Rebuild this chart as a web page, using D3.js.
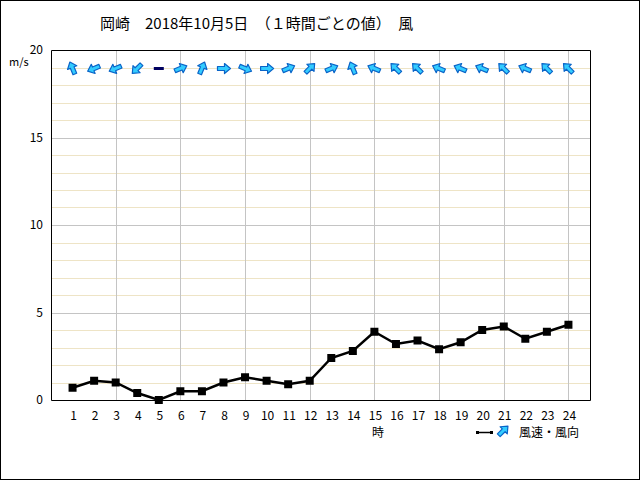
<!DOCTYPE html>
<html><head><meta charset="utf-8">
<script src="https://cdn.jsdelivr.net/npm/d3@7"></script>
<style>body{margin:0;background:#fff}svg{display:block}text{font-family:"Noto Sans CJK JP","DejaVu Sans",sans-serif;}</style>
</head><body>
<script>
const hours = [1,2,3,4,5,6,7,8,9,10,11,12,13,14,15,16,17,18,19,20,21,22,23,24];
const speed = [0.7,1.1,1.0,0.4,0.0,0.5,0.5,1.0,1.3,1.1,0.9,1.1,2.4,2.8,3.9,3.2,3.4,2.9,3.3,4.0,4.2,3.5,3.9,4.3];
// direction the arrow points, degrees clockwise from up; null = calm
const arrowDir = [337.5,247.5,247.5,225,null,67.5,22.5,90,112.5,90,67.5,45,67.5,337.5,292.5,315,315,292.5,292.5,292.5,315,292.5,315,315];
const yTicks = [0,5,10,15,20];
const title = "岡崎　2018年10月5日　（１時間ごとの値）　風";

const W=640,H=480;
const svg=d3.select("body").append("svg").attr("width",W).attr("height",H);
svg.append("rect").attr("x",0.5).attr("y",0.5).attr("width",W-1).attr("height",H-1).attr("fill","#fff").attr("stroke","#000");

const L=51,R=590,T=50,B=400;
const x=d3.scaleLinear().domain([0,25]).range([L,R]);
const y=d3.scaleLinear().domain([0,20]).range([B,T]);

// minor grid
svg.append("g").selectAll("line").data(d3.range(1,20).filter(v=>v%5)).join("line")
 .attr("x1",L).attr("x2",R).attr("y1",v=>Math.round(y(v))+0.5).attr("y2",v=>Math.round(y(v))+0.5)
 .attr("stroke","#eee4c6");
// major grid
svg.append("g").selectAll("line").data([5,10,15]).join("line")
 .attr("x1",L).attr("x2",R).attr("y1",v=>Math.round(y(v))+0.5).attr("y2",v=>Math.round(y(v))+0.5)
 .attr("stroke","#c4c4c4");
svg.append("g").selectAll("line").data(hours.filter(h=>h%3===0)).join("line")
 .attr("y1",T).attr("y2",B).attr("x1",h=>Math.round(x(h))+0.5).attr("x2",h=>Math.round(x(h))+0.5)
 .attr("stroke","#c4c4c4");
// frame
svg.append("path").attr("d",`M${L+0.5},${T+0.5}H${R+0.5}V${B+0.5}H${L+0.5}Z`).attr("fill","none").attr("stroke","#000");

// y axis labels
svg.append("g").selectAll("text").data(yTicks).join("text")
 .attr("x",43).attr("y",v=>y(v)+4).attr("text-anchor","end").attr("font-size",12).text(v=>v);
svg.append("text").attr("x",9).attr("y",66).attr("font-size",11).text("m/s");
// x labels
svg.append("g").selectAll("text").data(hours).join("text")
 .attr("x",h=>x(h)+1).attr("y",420).attr("text-anchor","middle").attr("font-size",12).text(h=>h);
svg.append("text").attr("x",378).attr("y",437).attr("text-anchor","middle").attr("font-size",12).text("時");
// title
svg.append("text").attr("x",100).attr("y",29).attr("font-size",15).text(title);

// line
const line=d3.line().x((d,i)=>x(hours[i])).y(d=>y(d));
svg.append("path").datum(speed).attr("d",line).attr("fill","none").attr("stroke","#000").attr("stroke-width",2.5);
svg.append("g").selectAll("rect").data(speed).join("rect")
 .attr("x",(d,i)=>x(hours[i])-4).attr("y",d=>y(d)-4).attr("width",8).attr("height",8).attr("fill","#000");

// arrows
const arrowPath="M0,-7 L5,-1 L2,-1 L2,6 L-2,6 L-2,-1 L-5,-1 Z";
function arrow(g,cx,cy,deg){
  g.append("path").attr("d",arrowPath).attr("transform",`translate(${cx},${cy}) rotate(${deg})`)
   .attr("fill","#33ccff").attr("stroke","#0a64c8").attr("stroke-width",1.2).attr("stroke-linejoin","round");
}
const ag=svg.append("g");
arrowDir.forEach((d,i)=>{
  const cx=x(hours[i]), cy=y(19)+1;
  if(d===null){ ag.append("line").attr("x1",cx-5).attr("x2",cx+5).attr("y1",cy).attr("y2",cy).attr("stroke","#000060").attr("stroke-width",3); }
  else arrow(ag,cx,cy,d);
});

// legend
svg.append("line").attr("x1",477).attr("x2",492).attr("y1",432.5).attr("y2",432.5).attr("stroke","#000").attr("stroke-width",1.5);
svg.append("rect").attr("x",476).attr("y",431).attr("width",3).attr("height",3).attr("fill","#000");
svg.append("rect").attr("x",490).attr("y",431).attr("width",3).attr("height",3).attr("fill","#000");
arrow(svg,503,431,45);
svg.append("text").attr("x",519).attr("y",437).attr("font-size",12).text("風速・風向");
</script>
</body></html>
